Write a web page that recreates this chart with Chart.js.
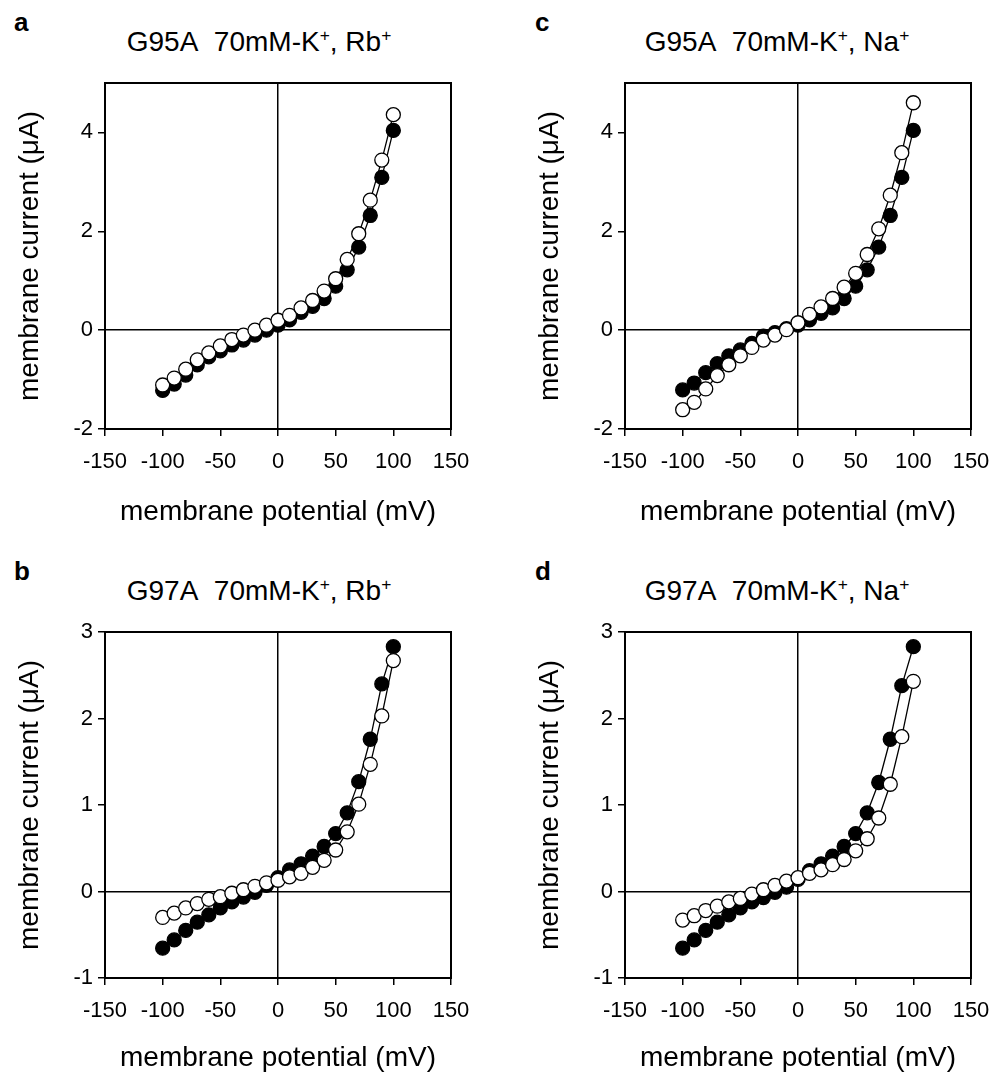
<!DOCTYPE html>
<html>
<head>
<meta charset="utf-8">
<script src="https://cdn.jsdelivr.net/npm/chart.js@4.4.0/dist/chart.umd.min.js"></script>
<style>
  body { margin: 0; width: 1003px; height: 1075px; background: #fff; position: relative; overflow: hidden;
         font-family: "Liberation Sans", Arial, sans-serif; color: #000; }
  canvas { position: absolute; }
  .letter { position: absolute; font-weight: bold; font-size: 26px; line-height: 1; }
  .title { position: absolute; font-size: 28px; line-height: 1; white-space: nowrap; transform: translate(-50%, -50%); }
  .title sup { font-size: 62%; vertical-align: 0.55em; line-height: 0; }
</style>
</head>
<body>
<div class="letter" style="left:14px; top:9px">a</div>
<div class="letter" style="left:535px; top:9px">c</div>
<div class="letter" style="left:14px; top:558px">b</div>
<div class="letter" style="left:535px; top:558px">d</div>
<div class="title" style="left:259px; top:42px">G95A&nbsp;&nbsp;70mM-K<sup>+</sup>, Rb<sup>+</sup></div>
<div class="title" style="left:777px; top:42px">G95A&nbsp;&nbsp;70mM-K<sup>+</sup>, Na<sup>+</sup></div>
<div class="title" style="left:259px; top:591px">G97A&nbsp;&nbsp;70mM-K<sup>+</sup>, Rb<sup>+</sup></div>
<div class="title" style="left:777px; top:591px">G97A&nbsp;&nbsp;70mM-K<sup>+</sup>, Na<sup>+</sup></div>
<canvas id="pa"></canvas>
<canvas id="pc"></canvas>
<canvas id="pb"></canvas>
<canvas id="pd"></canvas>
<script>
// membrane potential steps (mV)
const potential = [-100, -90, -80, -70, -60, -50, -40, -30, -20, -10, 0, 10, 20, 30, 40, 50, 60, 70, 80, 90, 100];

// membrane current (uA), filled = 70mM K+, open = substituted ion
const aFilled = [-1.22, -1.09, -0.91, -0.70, -0.54, -0.42, -0.30, -0.20, -0.10, 0.00, 0.10, 0.21, 0.36, 0.48, 0.64, 0.89, 1.22, 1.68, 2.32, 3.09, 4.04];
const aOpen   = [-1.11, -0.97, -0.79, -0.60, -0.46, -0.32, -0.19, -0.10, 0.00, 0.10, 0.20, 0.30, 0.45, 0.60, 0.79, 1.04, 1.43, 1.95, 2.63, 3.44, 4.36];

const cFilled = [-1.21, -1.07, -0.86, -0.68, -0.52, -0.40, -0.27, -0.12, -0.05, 0.03, 0.10, 0.21, 0.34, 0.45, 0.64, 0.89, 1.22, 1.68, 2.32, 3.09, 4.04];
const cOpen   = [-1.61, -1.46, -1.19, -0.92, -0.70, -0.52, -0.35, -0.20, -0.10, 0.01, 0.15, 0.32, 0.47, 0.64, 0.87, 1.15, 1.53, 2.05, 2.73, 3.59, 4.60];

const bFilled = [-0.655, -0.56, -0.45, -0.355, -0.27, -0.19, -0.12, -0.065, -0.01, 0.07, 0.16, 0.25, 0.32, 0.41, 0.52, 0.67, 0.91, 1.27, 1.76, 2.40, 2.83];
const bOpen   = [-0.30, -0.25, -0.19, -0.14, -0.09, -0.06, -0.02, 0.02, 0.06, 0.10, 0.13, 0.17, 0.21, 0.28, 0.36, 0.48, 0.69, 1.01, 1.47, 2.03, 2.67];

const dFilled = [-0.655, -0.56, -0.45, -0.355, -0.27, -0.19, -0.12, -0.07, -0.01, 0.05, 0.14, 0.24, 0.32, 0.41, 0.52, 0.67, 0.91, 1.26, 1.76, 2.38, 2.83];
const dOpen   = [-0.33, -0.28, -0.22, -0.17, -0.12, -0.08, -0.03, 0.02, 0.07, 0.12, 0.16, 0.21, 0.25, 0.31, 0.37, 0.47, 0.61, 0.85, 1.24, 1.79, 2.43];

const xTicks = [-150, -100, -50, 0, 50, 100, 150];
const yTicksTop = [-2, 0, 2, 4];
const yTicksBottom = [-1, 0, 1, 2, 3];

const FONT = "'Liberation Sans', Arial, sans-serif";

// draws the closed box round the plot area
const frame = {
  id: 'frame',
  afterDraw(chart) {
    const { ctx, chartArea: a } = chart;
    ctx.save();
    ctx.strokeStyle = '#000';
    ctx.lineWidth = 2;
    ctx.strokeRect(a.left, a.top, a.right - a.left, a.bottom - a.top);
    ctx.restore();
  }
};

function pts(ys) {
  return potential.map((v, i) => ({ x: v, y: ys[i] }));
}

function zeroGrid(c) {
  return c.tick && c.tick.value === 0 ? '#000' : 'rgba(0,0,0,0)';
}

function makePanel(id, box, filled, open, yMin, yMax, yTicks, titlePad) {
  const cv = document.getElementById(id);
  cv.width = box.w; cv.height = box.h;
  cv.style.left = box.left + 'px';
  cv.style.top = box.top + 'px';
  new Chart(cv, {
    type: 'scatter',
    data: {
      datasets: [
        { data: pts(open), showLine: true, borderColor: '#000', borderWidth: 1.3,
          pointRadius: 7, pointBackgroundColor: '#fff', pointBorderColor: '#000', pointBorderWidth: 1.3 },
        { data: pts(filled), showLine: true, borderColor: '#000', borderWidth: 1.3,
          pointRadius: 7, pointBackgroundColor: '#000', pointBorderColor: '#000', pointBorderWidth: 1.3 }
      ]
    },
    options: {
      responsive: false,
      animation: false,
      layout: { padding: { top: box.padTop, right: box.padRight, left: 0, bottom: 0 } },
      plugins: { legend: { display: false }, tooltip: { enabled: false } },
      scales: {
        x: {
          type: 'linear', min: -150, max: 150,
          afterBuildTicks: s => { s.ticks = xTicks.map(v => ({ value: v })); },
          afterFit: s => { s.height = box.xh; },
          ticks: { color: '#000', font: { family: FONT, size: 22 }, padding: 13, maxRotation: 0 },
          grid: { color: zeroGrid, lineWidth: 1.5, tickColor: '#000', tickLength: 7, tickWidth: 1.5 },
          border: { display: true, color: '#000', width: 2 },
          title: { display: true, text: 'membrane potential (mV)', color: '#000',
                   font: { family: FONT, size: 28 }, padding: { top: 0, bottom: titlePad } }
        },
        y: {
          type: 'linear', min: yMin, max: yMax,
          afterBuildTicks: s => { s.ticks = yTicks.map(v => ({ value: v })); },
          afterFit: s => { s.width = 105; },
          ticks: { color: '#000', font: { family: FONT, size: 22 }, padding: 5 },
          grid: { color: zeroGrid, lineWidth: 1.5, tickColor: '#000', tickLength: 7, tickWidth: 1.5 },
          border: { display: true, color: '#000', width: 2 },
          title: { display: true, text: 'membrane current (\u03bcA)', color: '#000',
                   font: { family: FONT, size: 28 }, padding: { top: 13, bottom: 0 } }
        }
      }
    },
    plugins: [frame]
  });
}

makePanel('pa', { left: 0,   top: 0,   w: 501, h: 537, padTop: 83, padRight: 50, xh: 108 }, aFilled, aOpen, -2, 5, yTicksTop, 8);
makePanel('pc', { left: 520, top: 0,   w: 483, h: 537, padTop: 83, padRight: 32, xh: 108 }, cFilled, cOpen, -2, 5, yTicksTop, 8);
makePanel('pb', { left: 0,   top: 537, w: 501, h: 538, padTop: 95, padRight: 50, xh: 97 },  bFilled, bOpen, -1, 3, yTicksBottom, 0);
makePanel('pd', { left: 520, top: 537, w: 483, h: 538, padTop: 95, padRight: 32, xh: 97 },  dFilled, dOpen, -1, 3, yTicksBottom, 0);
</script>
</body>
</html>
